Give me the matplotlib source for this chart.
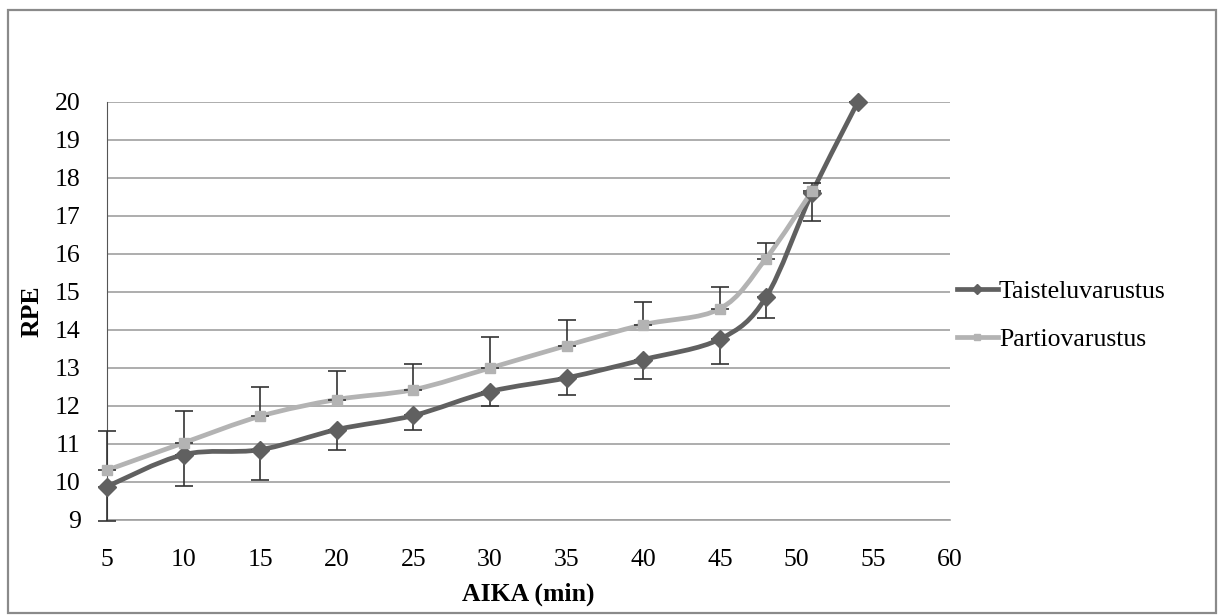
import matplotlib
matplotlib.use("Agg")
import matplotlib.pyplot as plt
import numpy as np
from matplotlib.path import Path
from matplotlib.patches import PathPatch, Rectangle
from matplotlib.lines import Line2D

plt.rcParams['font.family'] = 'Liberation Serif'

# data
aika_t = [5, 10, 15, 20, 25, 30, 35, 40, 45, 48, 51, 54]
rpe_t = [9.88, 10.72, 10.85, 11.38, 11.75, 12.38, 12.74, 13.22, 13.76, 14.86, 17.6, 20.0]
err_t = [0.9, 0.82, 0.79, 0.55, 0.37, 0.39, 0.46, 0.5, 0.65, 0.54, 0.72, 0.0]   # lower only

aika_p = [5, 10, 15, 20, 25, 30, 35, 40, 45, 48, 51]
rpe_p = [10.31, 11.03, 11.73, 12.17, 12.43, 13.0, 13.59, 14.14, 14.56, 15.88, 17.65]
err_p = [1.02, 0.83, 0.77, 0.76, 0.68, 0.82, 0.68, 0.59, 0.56, 0.41, 0.22]   # upper only

labels = ['Taisteluvarustus', 'Partiovarustus']
c_t = '#606060'
c_p = '#b3b3b3'


def smooth_path(x, y):
    # excel-like smoothed line: catmull-rom segments as cubic beziers
    pts = np.column_stack([x, y]).astype(float)
    verts = [pts[0]]
    codes = [Path.MOVETO]
    n = len(pts)
    for i in range(n - 1):
        p0 = pts[i - 1] if i > 0 else pts[i]
        p1 = pts[i]
        p2 = pts[i + 1]
        p3 = pts[i + 2] if i + 2 < n else pts[i + 1]
        verts += [p1 + (p2 - p0) / 6, p2 - (p3 - p1) / 6, p2]
        codes += [Path.CURVE4] * 3
    return Path(verts, codes)


fig = plt.figure(figsize=(12.24, 6.15), dpi=100)
ax = fig.add_axes([0.0874, 0.1545, 0.6886, 0.6797])

fig.patches.append(Rectangle((0.0065, 0.004), 0.987, 0.98, transform=fig.transFigure,
                             fill=False, edgecolor='#8a8a8a', lw=1.6))

for x, y, c in [(aika_t, rpe_t, c_t), (aika_p, rpe_p, c_p)]:
    ax.add_patch(PathPatch(smooth_path(x, y), fill=False, edgecolor=c, lw=3.4, zorder=3,
                           capstyle='round', joinstyle='round', clip_on=False))

for x, y, e in [(aika_t, rpe_t, [err_t, np.zeros(len(err_t))]),
                (aika_p, rpe_p, [np.zeros(len(err_p)), err_p])]:
    eb = ax.errorbar(x, y, yerr=e, fmt='none', ecolor='#333333', elinewidth=1.2,
                     capsize=6.5, capthick=1.2, zorder=4)
    for art in eb.lines[1] + eb.lines[2]:
        art.set_clip_on(False)

ax.plot(aika_t, rpe_t, ls='none', marker='D', ms=9, color=c_t, zorder=5, clip_on=False)
ax.plot(aika_p, rpe_p, ls='none', marker='s', ms=7.5, color=c_p, zorder=5, clip_on=False)

ax.set_xlim(5, 60)
ax.set_ylim(9, 20)
ax.set_xticks(np.arange(5, 61, 5))
ax.set_yticks(np.arange(9, 21, 1))
ax.tick_params(length=0, labelsize=18.5)
ax.tick_params(axis='x', pad=21)
ax.tick_params(axis='y', pad=19)
ax.grid(axis='y', color='#a0a0a0', lw=1.2)
ax.set_axisbelow(True)
for s in ['top', 'right']:
    ax.spines[s].set_visible(False)
ax.spines['left'].set_color('#555555')
ax.spines['bottom'].set_color('#a0a0a0')
ax.spines['bottom'].set_linewidth(1.2)

ax.set_xlabel('AIKA (min)', fontsize=18.5, fontweight='bold', labelpad=8)
ax.set_ylabel('RPE', fontsize=18.5, fontweight='bold', labelpad=8)

handles = [Line2D([], [], color=c_t, lw=3.4, marker='D', ms=5),
           Line2D([], [], color=c_p, lw=3.4, marker='s', ms=4.5)]
fig.legend(handles, labels, loc='center left', bbox_to_anchor=(0.771, 0.487),
           frameon=False, fontsize=18.5, handlelength=1.6, handletextpad=0.05,
           labelspacing=0.95, borderpad=0)

plt.savefig("out.png", dpi=100)
